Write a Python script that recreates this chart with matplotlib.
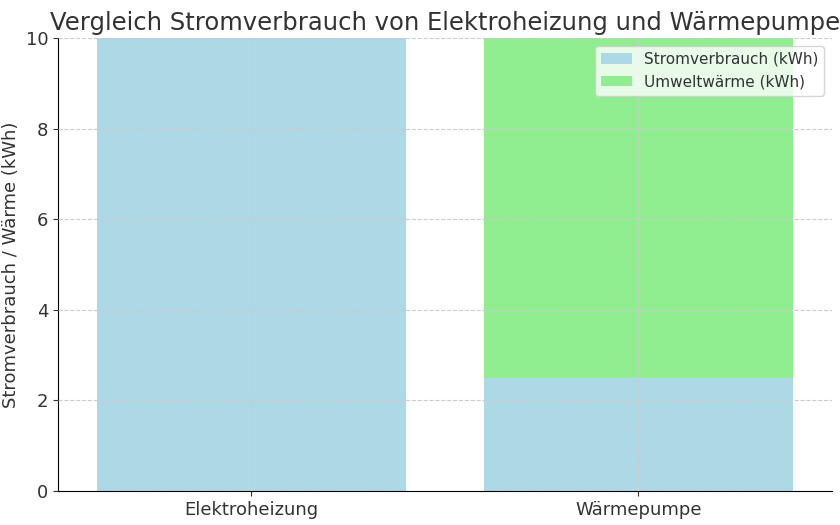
import matplotlib
matplotlib.use("Agg")
import matplotlib.pyplot as plt

categories = ["Elektroheizung", "Wärmepumpe"]
strom = [10, 2.5]
umwelt = [0, 7.5]

fig = plt.figure(figsize=(8.4, 5.25), dpi=100)
ax = fig.add_axes([58/840, 1-491/525, (832-58)/840, (491-38)/525])
ax.bar(categories, strom, color="#add8e6", label="Stromverbrauch (kWh)", width=0.8)
ax.bar(categories, umwelt, bottom=strom, color="#90ee90", label="Umweltwärme (kWh)", width=0.8)
ax.set_ylim(0, 10)
ax.set_xlim(-0.5, 1.5)
ax.set_yticks([0, 2, 4, 6, 8, 10])
ax.grid(True, linestyle="--", color="#cccccc", linewidth=0.8)
ax.set_axisbelow(False)
for s in ["top", "right"]:
    ax.spines[s].set_visible(False)
ax.tick_params(labelsize=13, colors="#333333")
ax.set_ylabel("Stromverbrauch / Wärme (kWh)", fontsize=13, color="#333333")
ax.set_title("Vergleich Stromverbrauch von Elektroheizung und Wärmepumpe", fontsize=17.5, color="#333333", family="DejaVu Sans")
leg = ax.legend(loc="upper right", prop={"family": "DejaVu Sans", "size": 11})
for t in leg.get_texts():
    t.set_color("#333333")
fig.savefig("out.png", dpi=100)
